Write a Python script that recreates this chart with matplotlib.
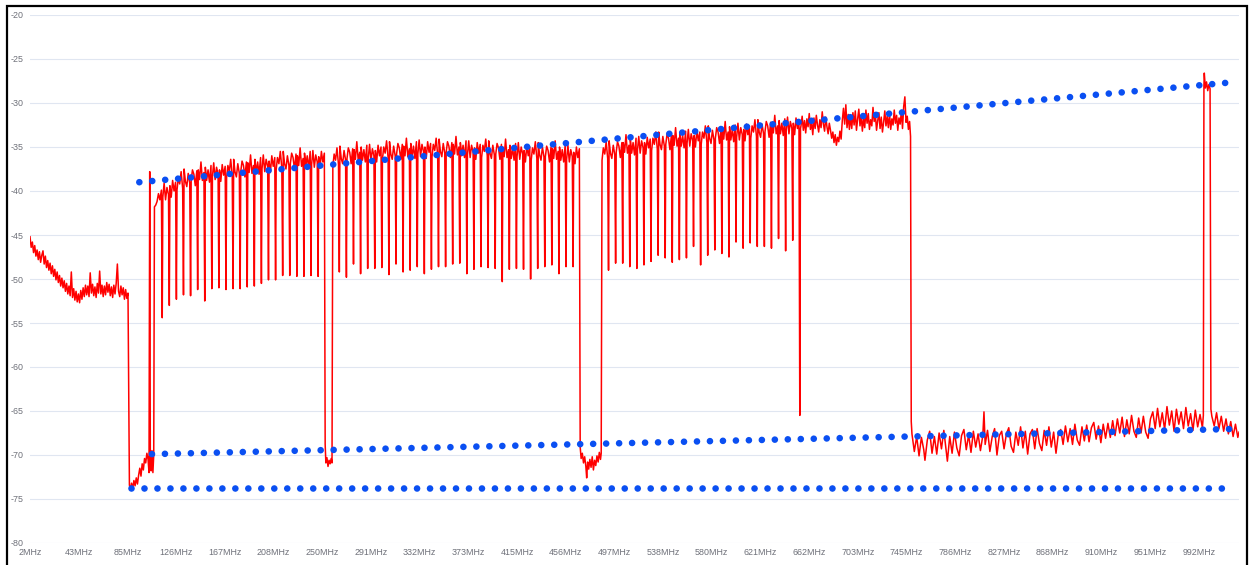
import numpy as np
import matplotlib.pyplot as plt
from matplotlib.patches import Rectangle

# spectrum sweep (MHz, dB)
# low band noise, diplex gap and the first carrier edge
low_f = [2, 3, 4, 5, 6, 7, 8, 9, 10, 11, 12, 13, 14, 15, 16, 17, 18, 19, 20, 21,
         22, 23, 24, 25, 26, 27, 28, 29, 30, 31, 32, 33, 34, 35, 36, 37, 38, 39, 40, 41,
         42, 43, 44, 45, 46, 47, 48, 49, 50, 51, 52, 53, 54, 55, 56, 57, 58, 59, 60, 61,
         62, 63, 64, 65, 66, 67, 68, 69, 70, 71, 72, 73, 74, 75, 76, 77, 78, 79, 80, 81,
         82, 83, 84, 85,
         86.2, 87, 88, 89, 90, 91, 92, 93, 94, 95, 96, 97, 98, 99, 100, 101, 102,
         102.8, 103.4, 103.9, 104.6, 105.3, 106.1, 106.8, 107.4]
low_v = [-45.2, -46.4, -45.8, -47.0, -46.2, -47.4, -46.7, -47.8, -46.9, -48.1,
         -47.3, -46.8, -48.3, -47.4, -48.7, -47.9, -49.0, -48.2, -49.4, -48.5,
         -49.7, -48.9, -50.1, -49.2, -50.4, -49.6, -50.8, -49.9, -51.0, -50.2,
         -51.4, -50.5, -51.7, -50.8, -51.9, -49.2, -52.1, -51.1, -52.4, -51.4,
         -52.6, -51.7, -52.7, -51.3, -52.3, -51.0, -52.0, -50.7, -51.8, -50.8,
         -52.0, -49.3, -51.6, -50.6, -51.9, -50.9, -52.1, -50.5, -51.6, -49.1,
         -51.7, -50.7, -52.0, -50.8, -51.8, -50.4, -51.5, -50.6, -51.9, -50.9,
         -52.1, -50.7, -51.7, -50.5, -48.3, -51.4, -52.0, -50.8, -51.8, -51.0,
         -52.3, -51.2, -52.2, -51.6,
         -73.4, -74.0, -73.2, -73.8, -72.9, -73.5, -72.6, -73.3, -72.3, -71.5,
         -72.4, -71.0, -71.7, -70.4, -70.9, -69.8, -70.5,
         -72.0, -37.8, -70.5, -71.8, -69.5, -72.0, -70.0, -41.8]

# occupied 6 MHz slots: lower edge, level in the gap at that edge, five samples of the top
ch_start = [108, 114, 120, 126, 132, 138, 144, 150, 156, 162, 168, 174, 180, 186, 192,
            198, 204, 210, 216, 222, 228, 234, 240, 246,
            258, 264, 270, 276, 282, 288, 294, 300, 306, 312, 318, 324, 330, 336, 342,
            348, 354, 360, 366, 372, 378, 384, 390, 396, 402, 408, 414, 420, 426, 432,
            438, 444, 450, 456, 462,
            486, 492, 498, 504, 510, 516, 522, 528, 534, 540, 546, 552, 558, 564, 570,
            576, 582, 588, 594, 600, 606, 612, 618, 624, 630, 636, 642, 648]
ch_gap = [np.nan, -54.4, -53.0, -52.3, -51.8, -51.9, -51.2, -52.5, -51.1, -51.0, -51.2,
          -51.1, -51.1, -50.9, -50.8, -50.5, -50.1, -50.1, -49.6, -49.6, -49.7, -49.7,
          -49.6, -49.7,
          np.nan, -49.2, -49.8, -48.3, -49.4, -48.8, -48.8, -48.7, -49.5, -48.3, -49.2,
          -49.0, -48.6, -49.4, -48.9, -48.6, -48.6, -48.3, -48.2, -49.4, -48.9, -48.6,
          -48.7, -48.8, -50.3, -48.9, -48.8, -48.9, -50.0, -48.8, -48.6, -48.4, -49.4,
          -48.6, -48.6,
          np.nan, -49.0, -48.2, -48.2, -48.6, -48.8, -48.4, -48.0, -47.3, -47.6, -48.1,
          -47.8, -47.6, -46.3, -48.4, -47.3, -46.7, -47.1, -47.5, -45.8, -46.5, -45.9,
          -46.3, -46.3, -46.5, -45.4, -46.8, -45.6]
ch_top = [
    [-41.6, -41.2, -40.3, -41.0, -39.9], [-40.7, -39.1, -41.0, -39.6, -40.4],
    [-39.4, -40.7, -38.8, -40.0, -39.0], [-39.9, -38.5, -39.2, -37.8, -39.7],
    [-37.5, -38.9, -39.5, -38.0, -39.1], [-38.8, -37.6, -38.1, -39.4, -37.7],
    [-37.6, -38.7, -36.7, -38.8, -37.9], [-37.3, -38.8, -37.6, -39.0, -37.1],
    [-38.4, -36.8, -38.7, -37.3, -38.1], [-37.6, -38.9, -37.0, -38.2, -37.2],
    [-38.5, -37.1, -37.8, -36.4, -38.3], [-36.4, -37.8, -38.4, -36.9, -38.0],
    [-37.8, -36.6, -37.1, -38.4, -36.7], [-36.8, -37.9, -35.9, -38.0, -37.1],
    [-36.4, -37.9, -36.7, -38.1, -36.2], [-37.5, -35.9, -37.8, -36.4, -37.2],
    [-36.6, -37.9, -36.0, -37.2, -36.2], [-37.6, -36.2, -36.9, -35.5, -37.4],
    [-35.5, -36.9, -37.5, -36.0, -37.1], [-36.9, -35.7, -36.2, -37.5, -35.8],
    [-36.0, -37.1, -35.1, -37.2, -36.3], [-35.7, -37.2, -36.0, -37.4, -35.5],
    [-37.0, -35.4, -37.3, -35.9, -36.7], [-36.1, -37.4, -35.5, -36.7, -35.7],
    [-37.2, -35.8, -36.5, -35.1, -37.0], [-34.9, -36.3, -36.9, -35.4, -36.5],
    [-36.3, -35.1, -35.6, -36.9, -35.2], [-35.3, -36.4, -34.4, -36.5, -35.6],
    [-35.0, -36.5, -35.3, -36.7, -34.8], [-36.3, -34.7, -36.6, -35.2, -36.0],
    [-35.4, -36.7, -34.8, -36.0, -35.0], [-36.4, -35.0, -35.7, -34.3, -36.2],
    [-34.4, -35.8, -36.4, -34.9, -36.0], [-35.8, -34.6, -35.1, -36.4, -34.7],
    [-34.9, -36.0, -34.0, -36.1, -35.2], [-34.6, -36.1, -34.9, -36.3, -34.4],
    [-35.8, -34.2, -36.1, -34.7, -35.5], [-35.0, -36.3, -34.4, -35.6, -34.6],
    [-36.1, -34.7, -35.4, -34.0, -35.9], [-34.1, -35.5, -36.1, -34.6, -35.7],
    [-35.6, -34.4, -34.9, -36.2, -34.5], [-34.7, -35.8, -33.8, -35.9, -35.0],
    [-34.5, -36.0, -34.8, -36.2, -34.3], [-35.9, -34.3, -36.2, -34.8, -35.6],
    [-35.1, -36.4, -34.5, -35.7, -34.7], [-36.2, -34.8, -35.5, -34.1, -36.0],
    [-34.3, -35.7, -36.3, -34.8, -35.9], [-35.8, -34.6, -35.1, -36.4, -34.7],
    [-35.0, -36.1, -34.1, -36.2, -35.3], [-34.8, -36.3, -35.1, -36.5, -34.6],
    [-36.1, -34.5, -36.4, -35.0, -35.8], [-35.4, -36.7, -34.8, -36.0, -35.0],
    [-36.5, -35.1, -35.8, -34.4, -36.3], [-34.5, -35.9, -36.5, -35.0, -36.1],
    [-36.1, -34.9, -35.4, -36.7, -35.0], [-35.2, -36.3, -34.3, -36.4, -35.5],
    [-35.0, -36.5, -35.3, -36.7, -34.8], [-36.4, -34.8, -36.7, -35.3, -36.1],
    [-35.6, -36.9, -35.0, -36.2, -35.2],
    [-36.5, -35.1, -35.8, -34.4, -36.3], [-34.3, -35.7, -36.3, -34.8, -35.9],
    [-35.6, -34.4, -34.9, -36.2, -34.5], [-34.5, -35.6, -33.6, -35.7, -34.8],
    [-34.2, -35.7, -34.5, -35.9, -34.0], [-35.4, -33.8, -35.7, -34.3, -35.1],
    [-34.5, -35.8, -33.9, -35.1, -34.1], [-35.4, -34.0, -34.7, -33.3, -35.2],
    [-33.3, -34.7, -35.3, -33.8, -34.9], [-34.7, -33.5, -34.0, -35.3, -33.6],
    [-33.7, -34.8, -32.8, -34.9, -34.0], [-33.4, -34.9, -33.7, -35.1, -33.2],
    [-34.6, -33.0, -34.9, -33.5, -34.3], [-33.7, -35.0, -33.1, -34.3, -33.3],
    [-34.7, -33.3, -34.0, -32.6, -34.5], [-32.6, -34.0, -34.6, -33.1, -34.2],
    [-34.0, -32.8, -33.3, -34.6, -32.9], [-33.0, -34.1, -32.1, -34.2, -33.3],
    [-32.7, -34.2, -33.0, -34.4, -32.5], [-33.9, -32.3, -34.2, -32.8, -33.6],
    [-33.0, -34.3, -32.4, -33.6, -32.6], [-34.0, -32.6, -33.3, -31.9, -33.8],
    [-31.9, -33.3, -33.9, -32.4, -33.5], [-33.3, -32.1, -32.6, -33.9, -32.2],
    [-32.3, -33.4, -31.4, -33.5, -32.6], [-32.0, -33.5, -32.3, -33.7, -31.8],
    [-33.2, -31.6, -33.5, -32.1, -32.9], [-32.3, -33.6, -31.7, -32.9, -31.9]]

# empty slots (252-258 and 468-486 MHz)
hole_f = [252.0, 252.6, 253.5, 254.4, 255.3, 256.2, 257.1, 257.8,
          468.0, 468.8, 469.8, 470.8, 471.8, 472.8, 473.5, 474.3, 475.2, 476.2,
          477.2, 478.2, 479.2, 480.2, 481.2, 482.2, 483.2, 484.2, 485.2, 485.8]
hole_v = [-68.8, -70.9, -70.3, -71.3, -70.6, -71.0, -70.4, -70.9,
          -69.1, -70.4, -69.8, -70.9, -70.2, -71.3, -72.6, -70.8, -71.6, -70.5,
          -71.4, -70.2, -71.7, -70.6, -71.2, -70.1, -70.8, -69.7, -70.5, -69.8]

# wide block 654-748 MHz
band_f = [654.0, 654.6, 655, 656, 657, 658, 659, 660, 661, 662, 663, 664, 665, 666, 667,
          668, 669, 670, 671, 672, 673, 674, 675, 676, 677, 678, 679, 680, 681, 682,
          683, 684, 685, 686, 687, 688, 689, 690, 691, 692, 693, 694, 695, 696, 697,
          698, 699, 700, 701, 702, 703, 704, 705, 706, 707, 708, 709, 710, 711, 712,
          713, 714, 715, 716, 717, 718, 719, 720, 721, 722, 723, 724, 725, 726, 727,
          728, 729, 730, 731, 732, 733, 734, 735, 736, 737, 738, 739, 740, 741, 742,
          743, 744, 745, 746, 747, 747.8, 748.4]
band_v = [-65.5, -32.9, -32.6, -31.5, -33.1, -32.0, -33.4, -31.8, -32.7, -31.2, -33.0,
          -32.2, -33.6, -31.7, -32.9, -31.4, -32.5, -33.3, -31.9, -32.8, -31.0, -32.4,
          -33.2, -31.6, -32.7, -33.5, -32.3, -33.1, -34.0, -33.3, -34.5, -33.6, -34.8,
          -33.9, -34.4, -33.2, -34.1, -32.0, -30.6, -32.4, -30.2, -32.8, -31.3, -33.0,
          -31.6, -32.9, -31.1, -32.5, -30.9, -33.1, -31.8, -30.7, -32.6, -31.4, -33.2,
          -31.7, -32.8, -30.8, -32.3, -31.2, -33.0, -31.9, -32.6, -30.5, -32.1, -31.3,
          -33.1, -32.0, -31.1, -32.9, -31.6, -33.3, -32.2, -30.9, -32.6, -31.5, -32.8,
          -31.2, -33.0, -31.8, -32.5, -30.8, -32.3, -31.4, -33.1, -31.7, -32.4, -31.0,
          -32.9, -30.4, -29.3, -32.2, -31.5, -33.0, -32.1, -33.8, -66.2]

# floor above 748 MHz with the lone carrier near 1 GHz
floor_f = [749, 751, 753, 755, 757, 759, 760, 762, 764, 766, 768, 770, 772, 774, 776,
           778, 779, 781, 783, 785, 787, 789, 791, 793, 795, 797, 799, 801, 803, 805,
           807, 809, 810, 811, 813, 815, 817, 819, 821, 823, 825, 827, 829, 831, 833,
           835, 837, 839, 841, 843, 845, 847, 849, 851, 853, 855, 857, 859, 861, 863,
           865, 867, 869, 871, 873, 875, 877, 879, 881, 883, 885, 887, 889, 891, 893,
           895, 897, 899, 901, 903, 905, 907, 909, 911, 913, 915, 917, 919, 921, 923,
           925, 927, 929, 931, 933, 935, 937, 939, 941, 943, 945, 947, 949, 951, 953,
           955, 957, 959, 961, 963, 965, 967, 969, 971, 973, 975, 977, 979, 981, 983,
           985, 987, 989, 991, 993, 995, 995.8,
           996.3, 996.6, 997.5, 998.5, 999.5, 1000.5, 1001.5,
           1002.2, 1003, 1005, 1007, 1009, 1011, 1013, 1015, 1017, 1019, 1021, 1023,
           1025, 1026]
floor_v = [-67.6, -69.6, -67.9, -70.1, -68.0, -69.4, -70.6, -68.3, -67.3, -69.8, -67.9,
           -69.9, -67.5, -69.3, -67.2, -69.5, -70.7, -67.9, -69.8, -67.4, -69.2, -70.1,
           -67.8, -67.1, -69.4, -67.7, -69.7, -67.3, -69.1, -67.6, -69.5, -67.8, -65.1,
           -68.8, -67.2, -69.6, -67.9, -67.0, -70.0, -67.8, -67.3, -69.3, -67.6, -66.9,
           -69.0, -69.7, -67.4, -68.9, -66.8, -69.2, -67.3, -69.9, -67.6, -67.1, -69.3,
           -67.0, -68.7, -69.5, -67.2, -68.9, -66.8, -69.1, -67.4, -69.8, -67.6, -67.1,
           -68.8, -66.7, -68.5, -67.0, -68.8, -66.5, -68.3, -68.9, -66.8, -68.4, -66.6,
           -68.5, -66.9, -66.3, -68.2, -66.7, -68.6, -66.5, -68.1, -66.4, -68.0, -66.1,
           -67.8, -65.9, -67.5, -65.7, -67.9, -66.0, -67.6, -65.5, -67.3, -68.0, -65.8,
           -67.5, -65.6, -67.4, -68.1, -65.9, -65.1, -67.0, -64.7, -66.8, -65.2, -67.1,
           -64.5, -66.6, -65.0, -67.3, -64.8, -66.5, -65.1, -67.0, -64.6, -66.7, -65.3,
           -67.2, -64.9, -66.8, -65.4, -66.9, -65.5,
           -28.0, -26.6, -28.3, -27.6, -28.6, -27.9, -28.4,
           -64.8, -65.6, -66.7, -65.2, -67.0, -65.6, -67.3, -65.9, -67.6, -66.2, -67.9,
           -66.5, -68.0, -67.4]

# dotted reference lines (start/end MHz and dB)
hi_f, hi_v = [94.6, 1016.0], [-39.0, -27.7]
mid_f, mid_v = [105.3, 1019.0], [-69.9, -67.05]
lo_f, lo_v = [87.8, 1012.5], [-73.75, -73.75]

RED = "#ff0000"
BLUE = "#0a4ff2"
GRID = "#e0e6f1"
LABEL = "#6e7079"

# put the trace together in frequency order
pts = (list(zip(low_f, low_v)) + list(zip(hole_f, hole_v))
       + list(zip(band_f, band_v)) + list(zip(floor_f, floor_v)))
for f0, gap, top in zip(ch_start, ch_gap, ch_top):
    if not np.isnan(gap):
        pts.append((f0, gap))
    for off, v in zip([0.5, 1.6, 2.8, 4.0, 5.3], top):
        pts.append((f0 + off, v))
pts.sort()
trace_f = [p[0] for p in pts]
trace_v = [p[1] for p in pts]

plt.rcParams['font.family'] = ['Liberation Sans', 'DejaVu Sans']

fig = plt.figure(figsize=(12.49, 5.65), dpi=100)
ax = fig.add_axes([30 / 1249, 22 / 565, 1209 / 1249, 528 / 565])

ax.plot(trace_f, trace_v, color=RED, lw=1.1, zorder=3)

# round dots every ~13 px
dot = dict(color=BLUE, lw=4.8, linestyle=(0, (0.001, 1.946)),
           dash_capstyle='round', zorder=4)
ax.plot(hi_f, hi_v, **dot)
ax.plot(mid_f, mid_v, **dot)
ax.plot(lo_f, lo_v, **dot)

ax.set_xlim(2, 1026)
ax.set_ylim(-80, -20)

xt = 2 + 41.25 * np.arange(25)
ax.set_xticks(xt)
ax.set_xticklabels([f"{int(np.floor(v + 0.5))}MHz" for v in xt])
yt = np.arange(-80, -15, 5)
ax.set_yticks(yt)
ax.set_yticklabels([str(v) for v in yt])
ax.tick_params(length=0, labelsize=6.4, labelcolor=LABEL)
ax.tick_params(axis='y', pad=4.3)
ax.tick_params(axis='x', pad=3.5)

ax.grid(axis='y', color=GRID, lw=0.8)
ax.set_axisbelow(True)
for s in ax.spines.values():
    s.set_visible(False)

# black frame round the screenshot
fig.add_artist(Rectangle((7 / 1249, -0.02), 1240 / 1249, 1.02 - 6.5 / 565,
                         transform=fig.transFigure, fill=False, lw=1.6,
                         edgecolor='black'))

fig.savefig("out.png", dpi=100)
